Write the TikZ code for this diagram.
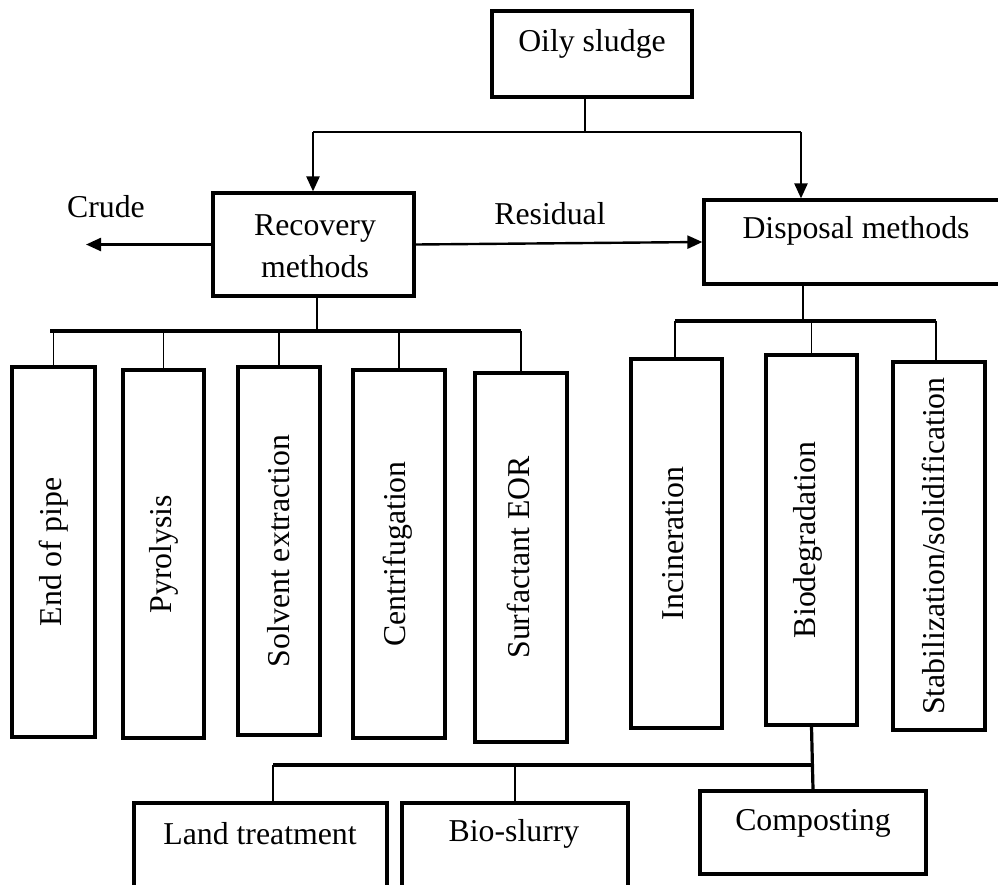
\documentclass[tikz,border=0pt]{standalone}
\usepackage{fontspec}
\setmainfont{Liberation Serif}
\usetikzlibrary{positioning,arrows.meta}

\begin{document}
\begin{tikzpicture}[x=1pt, y=-1pt,
  box/.style={draw, line width=3.2pt, inner sep=0pt},
  txt/.style={inner sep=0pt, font=\fontsize{31.8}{42}\selectfont, align=center},
  link/.style={line width=1.7pt},
  bar/.style={line width=3.2pt},
  flow/.style={line width=2.4pt, -{Triangle[length=15pt, width=13pt]}}]
  \useasboundingbox (0,0) rectangle (998,884);
  \clip (0,0) rectangle (998,884);

  % Top level
  \node[box, minimum width=200pt, minimum height=86pt] (sludge) at (592,54) {};
  \node[txt] (sludge-t) at (592,44) {Oily sludge};
  \node[box, minimum width=201pt, minimum height=103pt] (recovery) at (313.5,244.5) {};
  \node[txt] (recovery-t) at (315,246) {Recovery\\methods};
  \node[box, minimum width=300pt, minimum height=84pt] (disposal) at (854,242) {};
  \node[txt] (disposal-t) at (856,231) {Disposal methods};

  % Recovery branch (left)
  \node[box, minimum width=83pt, minimum height=370pt] (endpipe) at (53.5,552) {};
  \node[txt, rotate=90] (endpipe-t) at (53.5,552) {End of pipe};
  \node[box, minimum width=81pt, minimum height=368pt] (pyro) at (163.5,554) {};
  \node[txt, rotate=90] (pyro-t) at (163.5,554) {Pyrolysis};
  \node[box, minimum width=82pt, minimum height=368pt] (solvent) at (279,551) {};
  \node[txt, rotate=90] (solvent-t) at (279,551) {Solvent extraction};
  \node[box, minimum width=92pt, minimum height=368pt] (centri) at (399,554) {};
  \node[txt, rotate=90] (centri-t) at (398,554) {Centrifugation};
  \node[box, minimum width=92pt, minimum height=369pt] (surf) at (521,557.5) {};
  \node[txt, rotate=90] (surf-t) at (518,557.5) {Surfactant EOR};

  % Disposal branch (right)
  \node[box, minimum width=91pt, minimum height=369pt] (incin) at (676.5,543.5) {};
  \node[txt, rotate=90] (incin-t) at (673,543.5) {Incineration};
  \node[box, minimum width=91pt, minimum height=370pt] (biodeg) at (811.5,540) {};
  \node[txt, rotate=90] (biodeg-t) at (808,540) {Biodegradation};
  \node[box, minimum width=92pt, minimum height=368pt] (stab) at (939,546) {};
  \node[txt, rotate=90] (stab-t) at (933,546) {Stabilization/solidification};

  % Biodegradation options (bottom)
  \node[box, minimum width=253pt, minimum height=100pt] (land) at (260.5,853) {};
  \node[txt] (land-t) at (260,834) {Land treatment};
  \node[box, minimum width=226pt, minimum height=100pt] (slurry) at (515,853) {};
  \node[txt] (slurry-t) at (514,834) {Bio-slurry};
  \node[box, minimum width=226pt, minimum height=83pt] (compost) at (813,832.5) {};
  \node[txt] (compost-t) at (813,823) {Composting};

  % Side labels
  \node[txt] (crude) at (106,207) {Crude};
  \node[txt] (residual) at (550,214) {Residual};

  % Split below Oily sludge
  \coordinate (top-mid) at (585,132);
  \coordinate (top-l) at (313,132);
  \coordinate (top-r) at (801,132);
  \draw[link] (top-mid |- sludge.south) -- (top-mid);
  \draw[line width=2.2pt] (top-l) -- (top-r);
  \draw[flow] (top-l) -- (top-l |- recovery.north);
  \draw[flow] (top-r) -- (top-r |- disposal.north);

  % Crude and residual streams
  \coordinate (crude-end) at (86,244.5);
  \draw[flow] (recovery.west) -- (crude-end);
  \draw[flow] (recovery.east) -- (disposal.west);

  % Recovery tree
  \coordinate (rec-bar) at (317,331);
  \coordinate (lbar-l) at (50,331);
  \coordinate (lbar-r) at (521,331);
  \draw[link] (rec-bar |- recovery.south) -- (rec-bar);
  \draw[bar] (lbar-l) -- (lbar-r);
  \draw[link] (endpipe.north |- lbar-l) -- (endpipe.north);
  \draw[link] (pyro.north |- lbar-l) -- (pyro.north);
  \draw[link] (solvent.north |- lbar-l) -- (solvent.north);
  \draw[link] (centri.north |- lbar-l) -- (centri.north);
  \draw[link] (surf.north |- lbar-l) -- (surf.north);

  % Disposal tree
  \coordinate (dis-bar) at (803,321);
  \coordinate (rbar-l) at (675,321);
  \coordinate (rbar-r) at (936,321);
  \draw[link] (dis-bar |- disposal.south) -- (dis-bar);
  \draw[bar] (rbar-l) -- (rbar-r);
  \draw[link] (rbar-l) -- (rbar-l |- incin.north);
  \draw[link] (biodeg.north |- rbar-l) -- (biodeg.north);
  \draw[link] (rbar-r) -- (rbar-r |- stab.north);

  % Biodegradation tree
  \coordinate (bbar-l) at (273,765);
  \coordinate (bbar-r) at (814,765);
  \draw[bar] (biodeg.south) -- (compost.north);
  \draw[bar] (bbar-l) -- (bbar-r);
  \draw[link] (bbar-l) -- (bbar-l |- land.north);
  \draw[link] (slurry.north |- bbar-l) -- (slurry.north);
\end{tikzpicture}
\end{document}
